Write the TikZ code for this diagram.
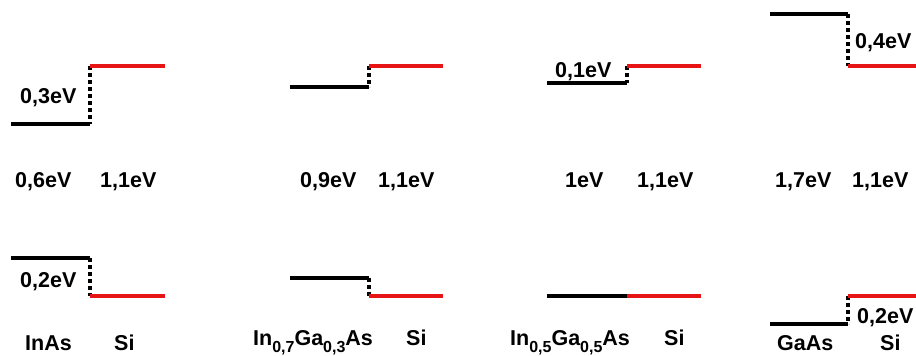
\documentclass[tikz,border=0pt]{standalone}
\usepackage{fontspec}
\setmainfont{Liberation Sans}
\definecolor{sired}{RGB}{230,20,20}
\newcommand{\subsc}[1]{\raisebox{-7pt}{\fontsize{16pt}{16pt}\selectfont #1}}
\tikzset{
  lvblack/.style={line width=4pt, black},
  lvredline/.style={line width=4pt, sired},
  lvdot/.style={line width=3.6pt, black, dash pattern=on 3.6pt off 3.4pt},
  lbl/.style={anchor=base west, inner sep=0pt, font=\fontsize{21.5pt}{24pt}\selectfont\bfseries}
}
\begin{document}
\begin{tikzpicture}[x=1pt,y=-1pt]
\useasboundingbox (0,0) rectangle (916,356);
% ---------- panel 1 top
\coordinate (a1) at (11,124); \coordinate (a2) at (90,124);
\coordinate (a3) at (90,66);  \coordinate (a4) at (165,66);
\draw[lvdot] (a3) -- (a2);
\draw[lvblack] (a1) -- (a2);
\draw[lvredline] (a3) -- (a4);
\node[lbl] (t1) at (20,103) {0,3eV};
\node[lbl] (g1) at (15,187) {0,6eV};
\node[lbl] (s1) at (100,187) {1,1eV};
% ---------- panel 1 bottom
\coordinate (b1) at (11,258); \coordinate (b2) at (90,258);
\coordinate (b3) at (90,296); \coordinate (b4) at (165,296);
\draw[lvdot] (b2) -- (b3);
\draw[lvblack] (b1) -- (b2);
\draw[lvredline] (b3) -- (b4);
\node[lbl] (u1) at (20,287) {0,2eV};
\node[lbl] (m1) at (25,350) {InAs};
\node[lbl] (n1) at (114,350) {Si};
% ---------- panel 2 top
\coordinate (c1) at (290,87); \coordinate (c2) at (369,87);
\coordinate (c3) at (369,66); \coordinate (c4) at (443,66);
\draw[lvdot] (c3) -- (c2);
\draw[lvblack] (c1) -- (c2);
\draw[lvredline] (c3) -- (c4);
\node[lbl] (g2) at (300,187) {0,9eV};
\node[lbl] (s2) at (378,187) {1,1eV};
% ---------- panel 2 bottom
\coordinate (d1) at (290,278); \coordinate (d2) at (369,278);
\coordinate (d3) at (369,296); \coordinate (d4) at (443,296);
\draw[lvdot] (d2) -- (d3);
\draw[lvblack] (d1) -- (d2);
\draw[lvredline] (d3) -- (d4);
\node[lbl] (m2) at (253,345) {In\subsc{0,7}Ga\subsc{0,3}As};
\node[lbl] (n2) at (406,345) {Si};
% ---------- panel 3 top
\coordinate (e1) at (547,83); \coordinate (e2) at (627,83);
\coordinate (e3) at (627,66); \coordinate (e4) at (701,66);
\draw[lvdot] (e3) -- (e2);
\draw[lvblack] (e1) -- (e2);
\draw[lvredline] (e3) -- (e4);
\node[lbl] (t3) at (555,77) {0,1eV};
\node[lbl] (g3) at (565,187) {1eV};
\node[lbl] (s3) at (637,187) {1,1eV};
% ---------- panel 3 bottom
\coordinate (f1) at (547,296); \coordinate (f2) at (627,296);
\coordinate (f4) at (701,296);
\draw[lvblack] (f1) -- (f2);
\draw[lvredline] (f2) -- (f4);
\node[lbl] (m3) at (510,345) {In\subsc{0,5}Ga\subsc{0,5}As};
\node[lbl] (n3) at (664,345) {Si};
% ---------- panel 4 top
\coordinate (h1) at (770,14); \coordinate (h2) at (848,14);
\coordinate (h3) at (848,66); \coordinate (h4) at (916,66);
\draw[lvdot] (h2) -- (h3);
\draw[lvblack] (h1) -- (h2);
\draw[lvredline] (h3) -- (h4);
\node[lbl] (t4) at (855,48) {0,4eV};
\node[lbl] (g4) at (775,187) {1,7eV};
\node[lbl] (s4) at (852,187) {1,1eV};
% ---------- panel 4 bottom
\coordinate (k1) at (770,324); \coordinate (k2) at (848,324);
\coordinate (k3) at (848,296); \coordinate (k4) at (916,296);
\draw[lvdot] (k3) -- (k2);
\draw[lvblack] (k1) -- (k2);
\draw[lvredline] (k3) -- (k4);
\node[lbl] (u4) at (857,323) {0,2eV};
\node[lbl] (m4) at (777,350) {GaAs};
\node[lbl] (n4) at (880,350) {Si};
\end{tikzpicture}
\end{document}
